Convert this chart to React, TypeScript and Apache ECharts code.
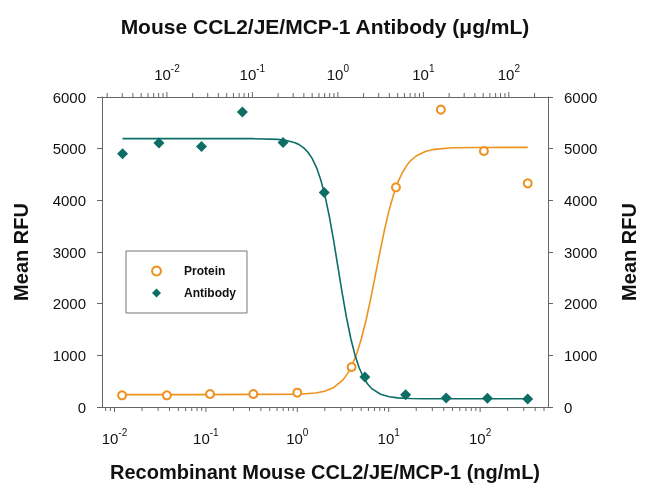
import React, { useEffect, useRef } from "react";
import * as echarts from "echarts";

// Protein (bottom axis, ng/mL)
const proteinX = [0.0121, 0.0374, 0.111, 0.33, 1.0, 3.93, 12.0, 37.2, 110, 332];
const proteinY = [226, 226, 252, 252, 277, 774, 4252, 5755, 4955, 4329];
// Antibody (top axis, µg/mL)
const antibodyX = [0.00303, 0.00807, 0.0254, 0.0763, 0.2285, 0.693, 2.07, 6.2, 18.5, 56.2, 166];
const antibodyY = [4900, 5110, 5040, 5710, 5120, 4150, 580, 235, 174, 168, 155];

// Fitted curves
const proteinFitX = [0.0121, 0.1, 1, 1.585, 1.995, 2.512, 3.162, 3.548, 3.981, 4.467, 5.012, 5.623, 6.31, 7.079, 7.943, 8.913, 10, 11.22, 12.59, 14.13, 15.85, 17.78, 19.95, 25.12, 31.62, 50, 100, 332];
const proteinFitY = [240, 240, 247, 271, 305, 378, 525, 646, 811, 1031, 1315, 1664, 2070, 2514, 2966, 3396, 3776, 4094, 4347, 4539, 4682, 4785, 4858, 4945, 4987, 5017, 5023, 5025];
const antibodyFitX = [0.00302, 0.1, 0.1995, 0.2512, 0.3162, 0.3548, 0.3981, 0.4467, 0.5012, 0.5623, 0.631, 0.7079, 0.7943, 0.8913, 1, 1.122, 1.259, 1.413, 1.585, 1.778, 1.995, 2.239, 2.512, 3.162, 3.981, 5.012, 7.079, 10, 31.62, 166];
const antibodyFitY = [5195, 5194, 5179, 5159, 5114, 5075, 5016, 4931, 4807, 4634, 4395, 4081, 3687, 3224, 2718, 2209, 1737, 1331, 1004, 755, 571, 441, 350, 246, 198, 177, 165, 161, 160, 160];

const yTicks = [0, 1000, 2000, 3000, 4000, 5000, 6000];
const decades = [0.001, 0.01, 0.1, 1, 10, 100];
const minorMultipliers = [2, 3, 4, 5, 6, 7, 8, 9];
const majorTicks = [0.01, 0.1, 1, 10, 100];

const bottomMin = 0.0073, bottomMax = 553;
const topMin = 0.00174, topMax = 287;

const ORANGE = "#EE921F";
const TEAL = "#0D6E66";
const AXIS = "#666";
const TEXT = "#111";
const FONT = "'Liberation Sans', Arial, sans-serif";

function minorTicks(min: number, max: number) {
  const out: number[] = [];
  decades.forEach((d) => minorMultipliers.forEach((m) => {
    const v = d * m;
    if (v > min && v < max) out.push(v);
  }));
  return out;
}

function logLabel(v: number) {
  const l = Math.log10(v);
  const e = Math.round(l);
  if (Math.abs(l - e) > 1e-6) return "";
  return `{b|10}{s|${e}}`;
}

const richLabel = {
  b: { fontSize: 15, fontFamily: FONT, color: TEXT, lineHeight: 19, verticalAlign: "bottom" },
  s: { fontSize: 10, fontFamily: FONT, color: TEXT, lineHeight: 11, verticalAlign: "top" },
};

function tickSeries(xAxisIndex: number, values: number[], len: number, top: boolean) {
  return {
    type: "custom",
    xAxisIndex,
    yAxisIndex: 0,
    silent: true,
    clip: false,
    z: 1,
    data: values.map((v) => [v, top ? 6000 : 0]),
    encode: { x: 0, y: 1 },
    renderItem: (_p: any, api: any) => {
      const p = api.coord([api.value(0), top ? 6000 : 0]);
      return {
        type: "line",
        shape: { x1: p[0], y1: p[1], x2: p[0], y2: p[1] + (top ? -len : len) },
        style: { stroke: AXIS, lineWidth: 1 },
      };
    },
  };
}

export default function App() {
  const ref = useRef<HTMLDivElement>(null);
  useEffect(() => {
    if (!ref.current) return;
    const chart = echarts.init(ref.current, undefined, { renderer: "svg" });
    const yAxisCommon = {
      type: "value",
      min: yTicks[0],
      max: yTicks[yTicks.length - 1],
      interval: 1000,
      splitLine: { show: false },
      axisLine: { show: true, onZero: false, lineStyle: { color: AXIS, width: 1 } },
      axisTick: { show: true, length: 5, lineStyle: { color: AXIS } },
      axisLabel: { fontSize: 15, fontFamily: FONT, color: TEXT, margin: 16, formatter: (v: number) => String(v) },
      name: "Mean RFU",
      nameLocation: "middle",
      nameRotate: 90,
      nameGap: 71,
      nameTextStyle: { fontSize: 20, fontWeight: "bold", fontFamily: FONT, color: TEXT },
    };
    chart.setOption({
      animation: false,
      grid: { left: 102, right: 102, top: 97, bottom: 92 },
      legend: {
        data: ["Protein", "Antibody"],
        orient: "vertical",
        left: 126,
        top: 251,
        padding: [14, 11, 14, 25],
        itemGap: 10,
        itemWidth: 9,
        itemHeight: 9,
        borderColor: "#777",
        borderWidth: 1,
        selectedMode: false,
        textStyle: { fontFamily: FONT, fontWeight: "bold", fontSize: 12, color: TEXT, padding: [0, 0, 0, 18] },
      },
      xAxis: [
        {
          type: "log",
          logBase: 10,
          min: bottomMin,
          max: bottomMax,
          position: "bottom",
          splitLine: { show: false },
          axisLine: { show: true, onZero: false, lineStyle: { color: AXIS, width: 1 } },
          axisTick: { show: false },
          axisLabel: { formatter: logLabel, rich: richLabel, margin: 20 },
          name: "Recombinant Mouse CCL2/JE/MCP-1 (ng/mL)",
          nameLocation: "middle",
          nameGap: 55,
          nameTextStyle: { fontSize: 20, fontWeight: "bold", fontFamily: FONT, color: TEXT },
        },
        {
          type: "log",
          logBase: 10,
          min: topMin,
          max: topMax,
          position: "top",
          splitLine: { show: false },
          axisLine: { show: true, onZero: false, lineStyle: { color: AXIS, width: 1 } },
          axisTick: { show: false },
          axisLabel: { formatter: logLabel, rich: richLabel, margin: 15 },
          name: "Mouse CCL2/JE/MCP-1 Antibody (μg/mL)",
          nameLocation: "middle",
          nameGap: 60,
          nameTextStyle: { fontSize: 21, fontWeight: "bold", fontFamily: FONT, color: TEXT },
        },
      ],
      yAxis: [
        { ...yAxisCommon, position: "left" },
        { ...yAxisCommon, position: "right" },
      ],
      series: [
        tickSeries(0, majorTicks, 5, false),
        tickSeries(0, minorTicks(bottomMin, bottomMax), 4, false),
        tickSeries(1, majorTicks, 5, true),
        tickSeries(1, minorTicks(topMin, topMax), 4, true),
        {
          type: "line",
          name: "ProteinFit",
          xAxisIndex: 0,
          yAxisIndex: 0,
          showSymbol: false,
          silent: true,
          data: proteinFitX.map((x, i) => [x, proteinFitY[i]]),
          lineStyle: { color: ORANGE, width: 1.6 },
          itemStyle: { color: ORANGE },
          z: 2,
        },
        {
          type: "line",
          name: "AntibodyFit",
          xAxisIndex: 1,
          yAxisIndex: 0,
          showSymbol: false,
          silent: true,
          data: antibodyFitX.map((x, i) => [x, antibodyFitY[i]]),
          lineStyle: { color: TEAL, width: 1.6 },
          itemStyle: { color: TEAL },
          z: 2,
        },
        {
          type: "scatter",
          name: "Protein",
          xAxisIndex: 0,
          yAxisIndex: 0,
          symbol: "emptyCircle",
          symbolSize: 8,
          data: proteinX.map((x, i) => [x, proteinY[i]]),
          itemStyle: { color: ORANGE, borderColor: ORANGE, borderWidth: 1.1, opacity: 1 },
          z: 3,
        },
        {
          type: "scatter",
          name: "Antibody",
          xAxisIndex: 1,
          yAxisIndex: 0,
          symbol: "diamond",
          symbolSize: 11,
          data: antibodyX.map((x, i) => [x, antibodyY[i]]),
          itemStyle: { color: TEAL, opacity: 1 },
          z: 3,
        },
      ],
    });
    return () => chart.dispose();
  }, []);
  return <div ref={ref} style={{ position: "fixed", left: 0, top: 0, width: 650, height: 499 }} />;
}
